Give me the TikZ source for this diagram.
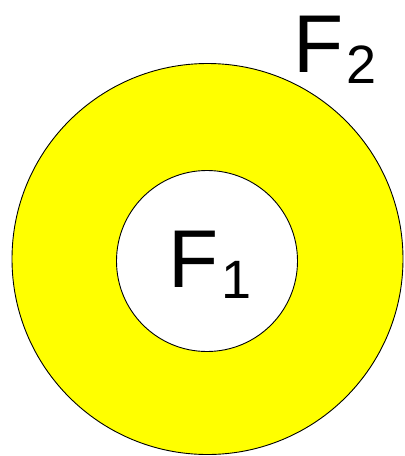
\documentclass[tikz,border=0pt]{standalone}
\usepackage{fontspec}
\setmainfont{Liberation Sans}
\usetikzlibrary{positioning}
\definecolor{cyellow}{HTML}{FFFF00}
\newcommand{\flabel}[1]{\fontsize{82}{82}\selectfont F\kern2pt\raisebox{-11pt}{\fontsize{54}{54}\selectfont #1}}
\tikzset{
  every picture/.style={line width=0.9pt},
  ring/.style={circle, draw=black, fill=#1, inner sep=0pt},
  ring/.default=white,
  flab/.style={inner sep=0pt, anchor=base west},
}
\begin{document}
\begin{tikzpicture}[x=1pt, y=-1pt]
  \useasboundingbox (0,0) rectangle (405,456);
  % outer disc and hole
  \node[ring=cyellow, minimum size=391pt] (outer) at (207.5,259) {};
  \node[ring, minimum size=181pt] (inner) at (207,261) {};
  % labels
  \node[flab] (f1) at (168.5,287) {\flabel{1}};
  \node[flab] (f2) at (293.5,72) {\flabel{2}};
\end{tikzpicture}
\end{document}
